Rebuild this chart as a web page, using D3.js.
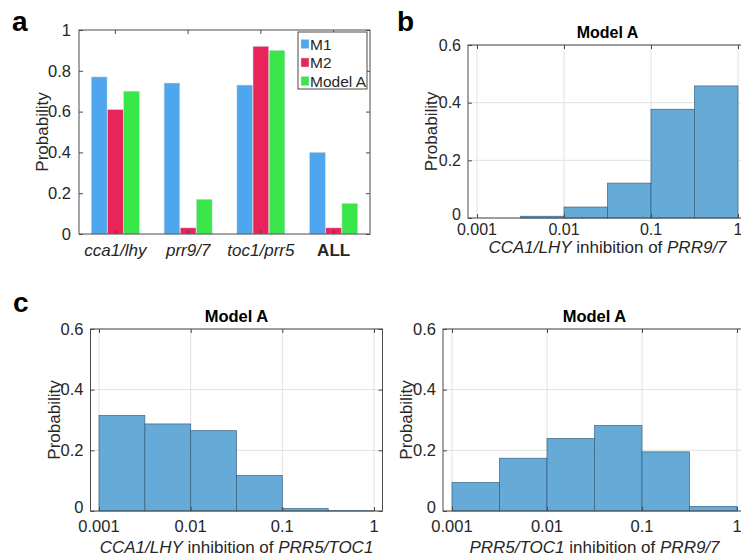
<!DOCTYPE html>
<html>
<head>
<meta charset="utf-8">
<script src="https://cdn.jsdelivr.net/npm/d3@7"></script>
<style>
  html, body { margin: 0; padding: 0; background: #fff; }
  svg { display: block; }
  text { font-family: "Liberation Sans", Arial, sans-serif; fill: #262626; }
</style>
</head>
<body>
<svg id="fig" width="741" height="558"></svg>
<script>
// ---- data ----
const categories = ["cca1/lhy", "prr9/7", "toc1/prr5", "ALL"];
const seriesNames = ["M1", "M2", "Model A"];
const m1Values = [0.77, 0.74, 0.73, 0.40];
const m2Values = [0.61, 0.03, 0.92, 0.03];
const modelAValues = [0.70, 0.17, 0.90, 0.15];
const seriesColors = ["#4ea6ef", "#e8245a", "#39e74b"];
const probTicks = [0, 0.2, 0.4, 0.6, 0.8, 1];

const binEdges = [0.001, 0.003162, 0.01, 0.03162, 0.1, 0.3162, 1];
const histTicks = [0, 0.2, 0.4, 0.6];
const logTicks = [0.001, 0.01, 0.1, 1];
const histPrr97 = [0, 0.006, 0.038, 0.121, 0.377, 0.458];
const histPrr5Toc1 = [0.315, 0.287, 0.265, 0.117, 0.008, 0.001];
const histToc1Prr97 = [0.094, 0.174, 0.239, 0.282, 0.195, 0.015];

const svg = d3.select("#fig");
const axisColor = "#4a4a4a";
const gridColor = "#e0e0e0";

function fmtTick(v) {
  return v === 0 ? "0" : (v === 1 ? "1" : String(+v.toFixed(3)));
}

// panel letters
[["a", 12, 31], ["b", 397, 31], ["c", 13, 312]].forEach(([t, x, y]) => {
  svg.append("text").attr("x", x).attr("y", y)
    .attr("font-size", 28).attr("font-weight", "bold")
    .style("fill", "#000").text(t);
});

// ---- panel a: grouped bars ----
(function () {
  const L = 79, R = 370, T = 30, B = 234;
  const g = svg.append("g");
  const x = d3.scaleBand().domain(categories).range([L, R]);
  const xi = d3.scaleBand().domain(seriesNames).range([-24, 24]).paddingInner(0.03);
  const y = d3.scaleLinear().domain([0, 1]).range([B, T]);
  const series = [m1Values, m2Values, modelAValues];

  series.forEach((vals, si) => {
    g.selectAll(null).data(vals).enter().append("rect")
      .attr("x", (d, i) => x(categories[i]) + x.bandwidth() / 2 + xi(seriesNames[si]))
      .attr("width", xi.bandwidth())
      .attr("y", d => y(d))
      .attr("height", d => y(0) - y(d))
      .attr("fill", seriesColors[si])
      .attr("stroke", "#cfd6dc").attr("stroke-width", 0.5);
  });

  // box
  g.append("rect").attr("x", L).attr("y", T).attr("width", R - L).attr("height", B - T)
    .attr("fill", "none").attr("stroke", axisColor).attr("stroke-width", 1);

  // y ticks left/right (inward)
  const yAxisL = d3.axisLeft(y).tickValues(probTicks).tickFormat(fmtTick).tickSizeInner(-4).tickSizeOuter(0).tickPadding(8);
  const ga = g.append("g").attr("transform", `translate(${L},0)`).call(yAxisL);
  ga.select(".domain").remove();
  ga.selectAll("line").attr("stroke", axisColor);
  ga.selectAll("text").attr("font-size", 16.5).attr("font-family", null).style("fill", "#262626");
  const gr = g.append("g").attr("transform", `translate(${R},0)`)
    .call(d3.axisRight(y).tickValues(probTicks).tickSizeInner(-4).tickSizeOuter(0).tickFormat(""));
  gr.select(".domain").remove();
  gr.selectAll("line").attr("stroke", axisColor);

  // x ticks bottom/top
  const gb = g.append("g").attr("transform", `translate(0,${B})`)
    .call(d3.axisBottom(x).tickSizeInner(-4).tickSizeOuter(0).tickPadding(10));
  gb.select(".domain").remove();
  gb.selectAll("line").attr("stroke", axisColor);
  gb.selectAll("text").attr("font-size", 17).attr("font-family", null).style("fill", "#262626")
    .attr("font-style", d => d === "ALL" ? "normal" : "italic")
    .attr("font-weight", d => d === "ALL" ? "bold" : "normal");
  const gt = g.append("g").attr("transform", `translate(0,${T})`)
    .call(d3.axisTop(x).tickSizeInner(-4).tickSizeOuter(0).tickFormat(""));
  gt.select(".domain").remove();
  gt.selectAll("line").attr("stroke", axisColor);

  // y label
  g.append("text").attr("transform", `translate(${L - 31},${(T + B) / 2}) rotate(-90)`)
    .attr("text-anchor", "middle").attr("font-size", 17).text("Probability");

  // legend
  const lg = g.append("g");
  lg.append("rect").attr("x", 298).attr("y", 32).attr("width", 69).attr("height", 57)
    .attr("fill", "#fff").attr("stroke", axisColor).attr("stroke-width", 1);
  seriesNames.forEach((s, i) => {
    const cy = 44 + i * 18.5;
    lg.append("rect").attr("x", 301).attr("y", cy - 4.5).attr("width", 8).attr("height", 9)
      .attr("fill", seriesColors[i]).attr("stroke", "#cfd6dc").attr("stroke-width", 0.5);
    lg.append("text").attr("x", 310).attr("y", cy + 5.5).attr("font-size", 15.5).text(s);
  });
})();

// ---- histogram panels ----
function histogram(opt) {
  const { x0, x1, T, B, pad, values, xlabel, tickBase, labelBase, fs, lfs } = opt;
  const L = x0 - pad, R = x1 + pad;
  const g = svg.append("g");
  const x = d3.scaleLog().domain([0.001, 1]).range([x0, x1]);
  const y = d3.scaleLinear().domain([0, 0.6]).range([B, T]);

  // grid
  g.selectAll(null).data(logTicks).enter().append("line")
    .attr("x1", d => x(d)).attr("x2", d => x(d)).attr("y1", T).attr("y2", B)
    .attr("stroke", gridColor).attr("stroke-width", 1);
  g.selectAll(null).data(histTicks).enter().append("line")
    .attr("x1", L).attr("x2", R).attr("y1", d => y(d)).attr("y2", d => y(d))
    .attr("stroke", gridColor).attr("stroke-width", 1);

  // bins
  const bins = values.map((v, i) => ({ lo: binEdges[i], hi: binEdges[i + 1], v }));
  g.selectAll(null).data(bins.filter(b => b.v > 0)).enter().append("rect")
    .attr("x", b => x(b.lo)).attr("width", b => x(b.hi) - x(b.lo))
    .attr("y", b => y(b.v)).attr("height", b => y(0) - y(b.v))
    .attr("fill", "#66aad7").attr("stroke", "#2f5877").attr("stroke-opacity", 0.8)
    .attr("stroke-width", 0.8);

  // box
  g.append("rect").attr("x", L).attr("y", T).attr("width", R - L).attr("height", B - T)
    .attr("fill", "none").attr("stroke", axisColor).attr("stroke-width", 1);

  // y ticks
  const ga = g.append("g").attr("transform", `translate(${L},0)`)
    .call(d3.axisLeft(y).tickValues(histTicks).tickFormat(fmtTick).tickSizeInner(-4).tickSizeOuter(0).tickPadding(7));
  ga.select(".domain").remove();
  ga.selectAll("line").attr("stroke", axisColor);
  ga.selectAll("text").attr("font-size", fs).attr("font-family", null).style("fill", "#262626")
    .attr("dy", d => d === 0 ? "0.1em" : "0.32em");
  const gr = g.append("g").attr("transform", `translate(${R},0)`)
    .call(d3.axisRight(y).tickValues(histTicks).tickSizeInner(-4).tickSizeOuter(0).tickFormat(""));
  gr.select(".domain").remove();
  gr.selectAll("line").attr("stroke", axisColor);

  // x ticks
  const gt = g.append("g").attr("transform", `translate(0,${T})`)
    .call(d3.axisTop(x).tickValues(logTicks).tickSizeInner(-4).tickSizeOuter(0).tickFormat(""));
  gt.select(".domain").remove();
  gt.selectAll("line").attr("stroke", axisColor);
  const gb = g.append("g").attr("transform", `translate(0,${B})`)
    .call(d3.axisBottom(x).tickValues(logTicks).tickSizeInner(-4).tickSizeOuter(0).tickFormat(""));
  gb.select(".domain").remove();
  gb.selectAll("line").attr("stroke", axisColor);
  g.selectAll(null).data(logTicks).enter().append("text")
    .attr("x", d => x(d)).attr("y", tickBase).attr("text-anchor", "middle")
    .attr("font-size", fs).text(fmtTick);

  // title
  g.append("text").attr("x", (L + R) / 2).attr("y", T - 7).attr("text-anchor", "middle")
    .attr("font-size", fs).attr("font-weight", "bold").style("fill", "#000").text("Model A");

  // x label with italic gene names
  const xl = g.append("text").attr("x", (L + R) / 2).attr("y", labelBase)
    .attr("text-anchor", "middle").attr("font-size", lfs);
  xlabel.forEach(([s, it]) => xl.append("tspan").attr("font-style", it ? "italic" : "normal").text(s));

  // y label
  g.append("text").attr("transform", `translate(${L - 31},${(T + B) / 2}) rotate(-90)`)
    .attr("text-anchor", "middle").attr("font-size", lfs).text("Probability");
}

histogram({
  x0: 477, x1: 738, T: 45, B: 218, pad: 9, values: histPrr97, fs: 16, lfs: 17,
  tickBase: 235, labelBase: 253,
  xlabel: [["CCA1/LHY", true], [" inhibition of ", false], ["PRR9/7", true]]
});
histogram({
  x0: 99, x1: 374, T: 329, B: 511, pad: 8.5, values: histPrr5Toc1, fs: 16.5, lfs: 17,
  tickBase: 532, labelBase: 553,
  xlabel: [["CCA1/LHY", true], [" inhibition of ", false], ["PRR5/TOC1", true]]
});
histogram({
  x0: 452, x1: 737, T: 329, B: 511, pad: 9, values: histToc1Prr97, fs: 16.5, lfs: 17,
  tickBase: 532, labelBase: 553,
  xlabel: [["PRR5/TOC1", true], [" inhibition of ", false], ["PRR9/7", true]]
});
</script>
</body>
</html>
